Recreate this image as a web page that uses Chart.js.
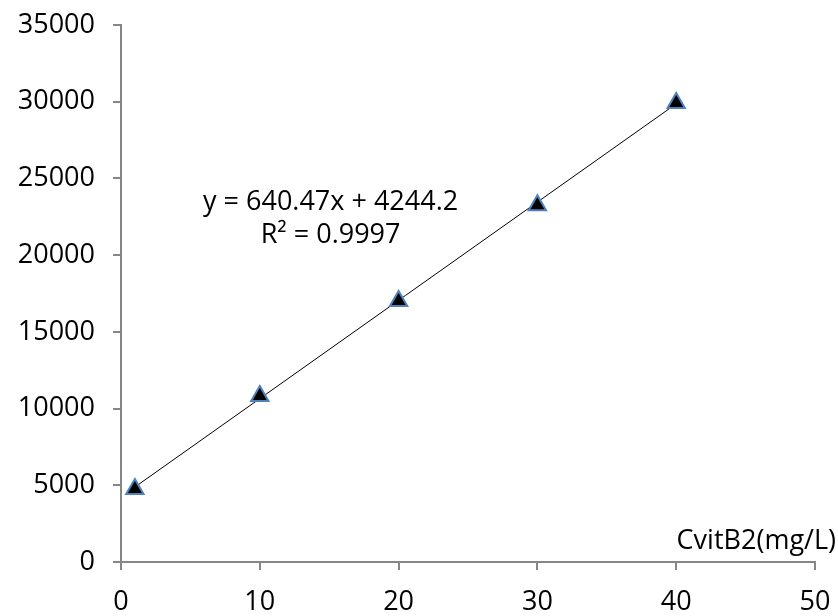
<!DOCTYPE html>
<html><head><meta charset="utf-8">
<script src="https://cdn.jsdelivr.net/npm/chart.js@4"></script>
<style>html,body{margin:0;padding:0;background:#fff}#wrap{width:838px;height:616px}</style>
</head><body><div id="wrap"><canvas id="c"></canvas></div>
<script>
const xValues = [1, 10, 20, 30, 40];
const yValues = [4760, 10820, 17010, 23250, 29920];
const slope = 640.47;
const intercept = 4244.2;
const equationText = 'y = 640.47x + 4244.2';
const r2Text = 'R² = 0.9997';
const xAxisTitle = 'CvitB2(mg/L)';
const xTicks = [0, 10, 20, 30, 40, 50];
const yTicks = [0, 5000, 10000, 15000, 20000, 25000, 30000, 35000];

const points = xValues.map((x, i) => ({x: x, y: yValues[i]}));
const trendX = [xValues[0], xValues[xValues.length - 1]];
const trend = trendX.map(x => ({x: x, y: slope * x + intercept}));

const FONT = 'Open Sans, Liberation Sans, sans-serif';
const axisColor = '#868686';

const labelsPlugin = {
  id: 'labelsPlugin',
  afterDraw(chart) {
    const ctx = chart.ctx;
    const xs = chart.scales.x, ys = chart.scales.y;
    ctx.save();
    ctx.fillStyle = '#000';
    ctx.font = '27px ' + FONT;
    ctx.textAlign = 'right';
    ctx.textBaseline = 'alphabetic';
    ctx.fillText(xAxisTitle, 836, ys.getPixelForValue(0) - 13);
    ctx.textAlign = 'center';
    ctx.fillText(equationText, xs.getPixelForValue(15.1), ys.getPixelForValue(22950));
    ctx.fillText(r2Text, xs.getPixelForValue(15.1), ys.getPixelForValue(20800));
    ctx.restore();
  }
};

new Chart(document.getElementById('c'), {
  type: 'scatter',
  data: {
    datasets: [
      {
        label: 'trend',
        data: trend,
        showLine: true,
        borderColor: '#000',
        borderWidth: 1,
        pointRadius: 0,
        order: 2
      },
      {
        label: 'data',
        data: points,
        pointStyle: 'triangle',
        pointRadius: 10,
        backgroundColor: '#000',
        borderColor: '#4F81BD',
        borderWidth: 2,
        order: 1
      }
    ]
  },
  options: {
    responsive: true,
    maintainAspectRatio: false,
    animation: false,
    layout: {padding: {top: 25, right: 23, left: 0, bottom: 0}},
    plugins: {legend: {display: false}, tooltip: {enabled: false}},
    scales: {
      x: {
        type: 'linear', min: 0, max: 50,
        afterBuildTicks: s => { s.ticks = xTicks.map(v => ({value: v})); },
        afterFit: s => { s.height = 54; s.paddingRight = 0; s.paddingLeft = 0; },
        border: {color: axisColor, width: 2},
        grid: {drawOnChartArea: false, color: axisColor, tickLength: 8, lineWidth: 2},
        ticks: {color: '#000', font: {family: FONT, size: 27}, padding: 16, maxRotation: 0}
      },
      y: {
        type: 'linear', min: 0, max: 35000,
        afterBuildTicks: s => { s.ticks = yTicks.map(v => ({value: v})); },
        afterFit: s => { s.width = 121; s.paddingTop = 0; s.paddingBottom = 0; },
        border: {color: axisColor, width: 2},
        grid: {drawOnChartArea: false, color: axisColor, tickLength: 8, lineWidth: 2},
        ticks: {color: '#000', font: {family: FONT, size: 27}, padding: 18, callback: v => String(v)}
      }
    }
  },
  plugins: [labelsPlugin]
});
</script>
</body></html>
